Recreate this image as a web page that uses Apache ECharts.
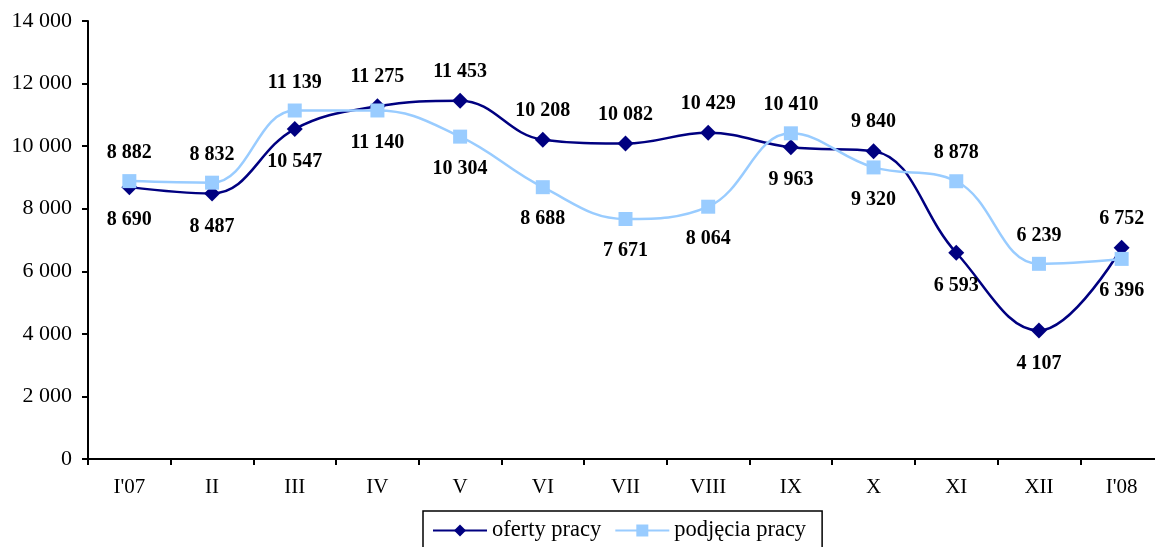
<!DOCTYPE html>
<html>
<head>
<meta charset="utf-8">
<script src="https://cdn.jsdelivr.net/npm/echarts@6/dist/echarts.min.js"></script>
<style>html,body{margin:0;padding:0;background:#fff;overflow:hidden}#c{width:1163px;height:547px}</style>
</head>
<body>
<div id="c"></div>
<script>
const categories = ["I'07","II","III","IV","V","VI","VII","VIII","IX","X","XI","XII","I'08"];
const oferty = [8690, 8487, 10547, 11275, 11453, 10208, 10082, 10429, 9963, 9840, 6593, 4107, 6752];
const podjecia = [8882, 8832, 11139, 11140, 10304, 8688, 7671, 8064, 10410, 9320, 8878, 6239, 6396];
const yTicks = [0, 2000, 4000, 6000, 8000, 10000, 12000, 14000];
// label placement (t = above, b = below)
const ofertyPos = ['b','b','b','t','t','t','t','t','b','t','b','b','t'];
const podjeciaPos = ['t','t','t','b','b','b','b','b','t','b','t','t','b'];

const fmt = v => String(v).replace(/\B(?=(\d{3})+(?!\d))/g, ' ');
const FONT = '"Liberation Serif", "Times New Roman", serif';

function mk(vals, pos) {
  return vals.map((v, i) => ({
    value: v,
    label: pos[i] === 't' ? { position: 'top', distance: 11 } : { position: 'bottom', distance: 15 }
  }));
}

const chart = echarts.init(document.getElementById('c'), null, {renderer: 'canvas'});
chart.setOption({
  animation: false,
  backgroundColor: '#fff',
  grid: { left: 88, right: 0, top: 21, bottom: 88, containLabel: false },
  xAxis: {
    type: 'category',
    data: categories,
    boundaryGap: true,
    axisLine: { lineStyle: { color: '#000', width: 2 } },
    axisTick: { show: true, length: 6, lineStyle: { color: '#000', width: 2 } },
    axisLabel: { color: '#000', fontFamily: FONT, fontSize: 21, margin: 18, interval: 0 }
  },
  yAxis: {
    type: 'value',
    min: yTicks[0],
    max: yTicks[yTicks.length - 1],
    interval: 2000,
    splitLine: { show: false },
    axisLine: { show: true, lineStyle: { color: '#000', width: 2 } },
    axisTick: { show: true, length: 6, lineStyle: { color: '#000', width: 2 } },
    axisLabel: { color: '#000', fontFamily: FONT, fontSize: 22, margin: 16, formatter: fmt }
  },
  legend: {
    left: 423,
    top: 511,
    padding: [8, 16, 20, 9],
    borderColor: '#000',
    borderWidth: 1.5,
    itemWidth: 54,
    itemHeight: 15,
    itemGap: 13,
    textStyle: { color: '#000', fontFamily: FONT, fontSize: 22.5 },
    data: ['oferty pracy', 'podjęcia pracy']
  },
  series: [
    {
      name: 'oferty pracy',
      type: 'line',
      smooth: 0.4,
      data: mk(oferty, ofertyPos),
      symbol: 'diamond',
      symbolSize: 16,
      itemStyle: { color: '#000080' },
      lineStyle: { color: '#000080', width: 2.5 },
      label: {
        show: true, color: '#000', fontFamily: FONT, fontSize: 20, fontWeight: 'bold',
        formatter: p => fmt(p.value)
      },
      z: 3
    },
    {
      name: 'podjęcia pracy',
      type: 'line',
      smooth: 0.4,
      data: mk(podjecia, podjeciaPos),
      symbol: 'rect',
      symbolSize: 14,
      itemStyle: { color: '#99CCFF' },
      lineStyle: { color: '#99CCFF', width: 2.5 },
      label: {
        show: true, color: '#000', fontFamily: FONT, fontSize: 20, fontWeight: 'bold',
        formatter: p => fmt(p.value)
      },
      z: 4
    }
  ]
});
</script>
</body>
</html>
